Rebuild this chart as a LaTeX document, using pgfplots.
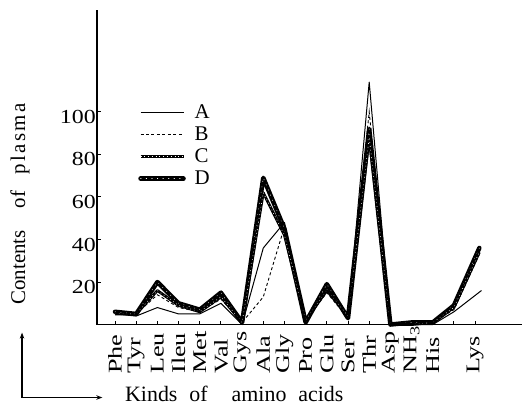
\documentclass[border=0pt]{standalone}
\usepackage{fontspec}
\setmainfont{Liberation Serif}
\newfontfamily\wide[FakeStretch=1.2]{Liberation Serif}
\newfontfamily\lab[FakeStretch=1.35]{Liberation Serif}
\usepackage{pgfplots}
\pgfplotsset{compat=1.18}
\usetikzlibrary{arrows.meta}

% rotated category label, all starting at the same distance below the axis
\newcommand{\xl}[1]{\makebox[48bp][l]{#1}}

\begin{document}
\begin{tikzpicture}
\begin{axis}[
  scale only axis,
  width=425bp, height=315bp,
  xmin=-0.85, xmax=19.2,
  ymin=0, ymax=148,
  axis lines=left,
  axis line style={line width=1.3pt, -},
  clip=false,
  xtick={0,...,17},
  xticklabels={\xl{Phe},\xl{Tyr},\xl{Leu},\xl{Ileu},\xl{Met},\xl{Val},\xl{Gys},\xl{Ala},\xl{Gly},\xl{Pro},\xl{Glu},\xl{Ser},\xl{Thr},\xl{Asp},\xl{NH\textsubscript{3}},\xl{His},{},\xl{Lys}},
  x tick label style={rotate=90, anchor=east, inner sep=1bp, font={\lab\fontsize{19.5}{22}\selectfont}},
  ytick={20,40,60,80,100},
  /pgf/number format/assume math mode=true,
  y tick label style={inner sep=1bp, yshift=-5bp, font={\wide\fontsize{20}{22}\selectfont}},
  tick align=inside,
  major tick length=4bp,
  tick style={line width=0.9pt, black},
  reverse legend,
  legend cell align=left,
  legend image code/.code={\draw[#1] (0bp,0bp) -- (43bp,0bp);},
  legend style={at={(axis cs:1.09,104.2)}, anchor=north west, draw=none, fill=none,
    inner sep=0pt, row sep=3bp, column sep=8bp,
    font={\fontsize{21}{24}\selectfont},
    nodes={inner sep=1bp, text height=14bp, text depth=3bp}},
]

% D
\addplot[black, line width=4.5pt, line join=round, line cap=round,
  postaction={draw=white, line width=0.5pt, dash pattern=on 0.6pt off 5pt}]
  coordinates {(0,6) (1,5) (2,20) (3,10) (4,7) (5,15) (6,1) (7,69) (8,45) (9,1)
  (10,19) (11,3) (12,92) (13,0) (14,1) (15,1) (16,9) (17.2,36)};
\addlegendentry{D}

% C
\addplot[black, line width=2.8pt, line join=round,
  postaction={draw=white, line width=0.6pt, dash pattern=on 0.8pt off 3pt}]
  coordinates {(0,5) (1,5) (2,16) (3,9) (4,6) (5,13) (6,1) (7,62) (8,42) (9,2)
  (10,16) (11,4) (12,88) (13,0) (14,0) (15,1) (16,8) (17.2,34)};
\addlegendentry{C}

% B
\addplot[black, line width=0.9pt, dash pattern=on 3pt off 2.5pt]
  coordinates {(0,5) (1,5) (2,14) (3,8) (4,6) (5,12) (6,1) (7,13) (8,46) (9,2)
  (10,15) (11,3) (12,100) (13,0) (14,0) (15,1) (16,7) (17.2,33)};
\addlegendentry{B}

% A
\addplot[black, line width=1pt, line join=round]
  coordinates {(0,5) (1,4) (2,8) (3,5) (4,5) (5,10) (6,0) (7,36) (8,48) (9,1)
  (10,16) (11,3) (12,114) (13,0) (14,0) (15,0) (16,6) (17.3,16)};
\addlegendentry{A}

% axis titles and corner arrow
\node[rotate=90, font={\fontsize{21}{24}\selectfont}] at (axis cs:-4.49,56.8)
  {Contents\hspace{22bp}of\hspace{16bp}{\addfontfeature{LetterSpace=12}plasma}};
\node[anchor=base west, inner sep=0pt, font={\fontsize{22}{24}\selectfont}] at (axis cs:0.47,-36.2)
  {Kinds\hspace{12bp}of\hspace{24bp}amino\hspace{12bp}acids};
\draw[line width=1.5pt, -{Stealth[length=6bp]}] (axis cs:-4.39,-34.3) -- (axis cs:-4.39,-3.8);
\draw[line width=1.5pt, -{Stealth[length=6bp]}] (axis cs:-4.39,-34.3) -- (axis cs:-0.6,-34.3);

\coordinate (bbsw) at (axis cs:-5.43,-39.4);
\coordinate (bbne) at (axis cs:19.45,152.6);
\end{axis}
\pgfresetboundingbox
\path (bbsw) rectangle (bbne);
\end{tikzpicture}
\end{document}
